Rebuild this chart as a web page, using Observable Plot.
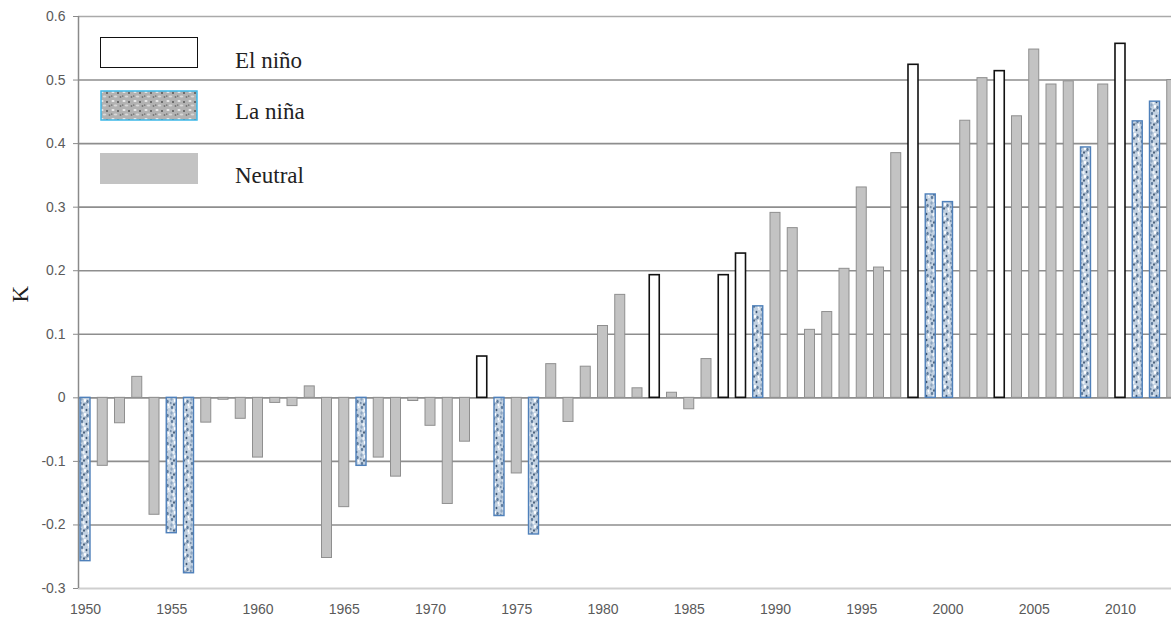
<!DOCTYPE html>
<html>
<head>
<meta charset="utf-8">
<script src="https://cdn.jsdelivr.net/npm/d3@7"></script>
<script src="https://cdn.jsdelivr.net/npm/@observablehq/plot@0.6"></script>
<style>
  html, body { margin: 0; padding: 0; background: #fff; overflow: hidden; }
  #wrap { position: relative; width: 1171px; height: 620px; }
  .lg-box { position: absolute; left: 100px; width: 98px; height: 31px; box-sizing: border-box; }
  .lg-txt { position: absolute; left: 235px; font-family: "Liberation Serif", "Times New Roman", serif; font-size: 23px; color: #222; line-height: 1; }
</style>
</head>
<body>
<div id="wrap"></div>
<script>
// ---- data ----
const years = [1950,1951,1952,1953,1954,1955,1956,1957,1958,1959,
               1960,1961,1962,1963,1964,1965,1966,1967,1968,1969,
               1970,1971,1972,1973,1974,1975,1976,1977,1978,1979,
               1980,1981,1982,1983,1984,1985,1986,1987,1988,1989,
               1990,1991,1992,1993,1994,1995,1996,1997,1998,1999,
               2000,2001,2002,2003,2004,2005,2006,2007,2008,2009,
               2010,2011,2012,2013];
const anomaly = [-0.257,-0.107,-0.040,0.033,-0.184,-0.213,-0.276,-0.039,-0.003,-0.033,
                 -0.094,-0.008,-0.013,0.018,-0.252,-0.172,-0.107,-0.094,-0.124,-0.005,
                 -0.044,-0.167,-0.069,0.065,-0.186,-0.119,-0.215,0.053,-0.038,0.049,
                 0.113,0.162,0.015,0.193,0.008,-0.018,0.061,0.193,0.227,0.144,
                 0.291,0.267,0.107,0.135,0.203,0.331,0.205,0.385,0.524,0.320,
                 0.308,0.436,0.503,0.514,0.443,0.548,0.493,0.498,0.394,0.493,
                 0.557,0.435,0.466,0.500];
const phase = ["L","N","N","N","N","L","L","N","N","N",
               "N","N","N","N","N","N","L","N","N","N",
               "N","N","N","E","L","N","L","N","N","N",
               "N","N","N","E","N","N","N","E","E","L",
               "N","N","N","N","N","N","N","N","E","L",
               "L","N","N","E","N","N","N","N","L","N",
               "E","L","L","N"];
const yTicks = [-0.3,-0.2,-0.1,0,0.1,0.2,0.3,0.4,0.5,0.6];
const xTicks = [1950,1955,1960,1965,1970,1975,1980,1985,1990,1995,2000,2005,2010];
const legendLabels = ["El niño","La niña","Neutral"];
const yLabel = "K";

const data = years.map((y, i) => ({year: y, value: anomaly[i], phase: phase[i]}));
const half = 0.29;
const xDomain = [1949.594, 2012.957];

const barOpts = (extra) => Object.assign({
  x1: d => d.year - half, x2: d => d.year + half, y1: 0, y2: "value", clip: true
}, extra);

const chart = Plot.plot({
  width: 1171,
  height: 620,
  marginLeft: 78,
  marginRight: 0,
  marginTop: 16,
  marginBottom: 32,
  style: {background: "#fff"},
  x: {type: "linear", domain: xDomain},
  y: {domain: [yTicks[0], yTicks[yTicks.length - 1]]},
  marks: [
    Plot.ruleY(yTicks.slice(1, -1), {stroke: "#8e8e8e", strokeWidth: 1.6}),
    Plot.ruleY([yTicks[yTicks.length - 1]], {stroke: "#aaaaaa", strokeWidth: 1.6}),
    Plot.ruleY([yTicks[0]], {stroke: "#cfcfcf", strokeWidth: 2}),
    Plot.ruleX([xDomain[0]], {y1: yTicks[0], y2: yTicks[yTicks.length - 1], stroke: "#8a8a8a", strokeWidth: 1.5}),
    Plot.rectY(data.filter(d => d.phase === "N"), barOpts({fill: "#c3c3c3", stroke: "#8f8f8f", strokeWidth: 1})),
    Plot.rectY(data.filter(d => d.phase === "L"), barOpts({fill: "url(#speckle)", stroke: "#4f80ba", strokeWidth: 1.4})),
    Plot.rectY(data.filter(d => d.phase === "E"), barOpts({fill: "#ffffff", stroke: "#111", strokeWidth: 1.6})),
    Plot.axisY(yTicks, {
      tickSize: 5, tickPadding: 8, stroke: "#8a8a8a", fill: "#5a5a5a",
      fontSize: 14, fontFamily: "Liberation Sans, Arial, sans-serif",
      tickFormat: d => d === 0 ? "0" : d.toFixed(1), label: null
    }),
    Plot.axisX(xTicks, {
      tickSize: 0, tickPadding: 16, fill: "#5a5a5a",
      fontSize: 14, fontFamily: "Liberation Sans, Arial, sans-serif",
      tickFormat: "d", label: null
    }),
    Plot.text([yLabel], {
      frameAnchor: "left", dx: -58, text: d => d, rotate: -90,
      fontSize: 23, fontFamily: "Liberation Serif, Times New Roman, serif", fill: "#222"
    })
  ]
});

// texture pattern for La niña bars
const defs = d3.select(chart).insert("defs", ":first-child");
function speckle(id, bg, specks, w, h) {
  const p = defs.append("pattern").attr("id", id).attr("patternUnits", "userSpaceOnUse")
    .attr("width", w).attr("height", h);
  p.append("rect").attr("width", w).attr("height", h).attr("fill", bg);
  specks.forEach(([cx, cy, r, c]) => p.append("ellipse").attr("cx", cx).attr("cy", cy)
    .attr("rx", r).attr("ry", r * 1.5).attr("fill", c));
}
speckle("speckle", "#c2d1e1", [
  [2,1.5,1.1,"#5f7b9b"],[6.5,4,0.9,"#3b5472"],[1.5,7,1.2,"#8ea6c0"],[7.5,9.5,1.2,"#5f7b9b"],
  [4,12.5,0.8,"#2d4460"],[8.5,13,0.9,"#ffffff"],[3.5,4.5,1.1,"#eef3f8"],[5,8.5,1.1,"#ffffff"],
  [0.8,11,0.8,"#6f88a6"],[9,1,0.8,"#f4f7fb"],[6,11.5,0.7,"#7d93ad"]
], 10, 14);

document.getElementById("wrap").appendChild(chart);

// legend (drawn over the plot area, top-left)
const wrap = document.getElementById("wrap");
const lsvg = `<svg width="98" height="31" style="display:block"><defs><pattern id="lgspk" patternUnits="userSpaceOnUse" width="11" height="9">
<rect width="11" height="9" fill="#b2b2b2"/><ellipse cx="2" cy="2" rx="1.6" ry="1" fill="#ececec"/><ellipse cx="7" cy="3" rx="1" ry="0.9" fill="#555"/>
<ellipse cx="4.5" cy="6.5" rx="1.8" ry="1" fill="#d8d8d8"/><ellipse cx="9.5" cy="7" rx="0.9" ry="0.9" fill="#777"/><ellipse cx="0.8" cy="6" rx="0.6" ry="0.6" fill="#333"/></pattern></defs>
<rect x="1" y="1" width="96" height="29" fill="url(#lgspk)" stroke="#3cb8e8" stroke-width="1.5"/></svg>`;
const rows = [
  {top: 37, base: 67, html: `<div style="width:98px;height:31px;box-sizing:border-box;border:1.6px solid #111;background:#fff"></div>`},
  {top: 90, base: 118, html: lsvg},
  {top: 153, base: 182, html: `<div style="width:98px;height:31px;background:#c3c3c3"></div>`}
];
rows.forEach((r, i) => {
  const b = document.createElement("div");
  b.className = "lg-box"; b.style.top = r.top + "px"; b.innerHTML = r.html;
  wrap.appendChild(b);
  const t = document.createElement("div");
  t.className = "lg-txt"; t.style.top = (r.base - 18) + "px"; t.textContent = legendLabels[i];
  wrap.appendChild(t);
});
</script>
</body>
</html>
